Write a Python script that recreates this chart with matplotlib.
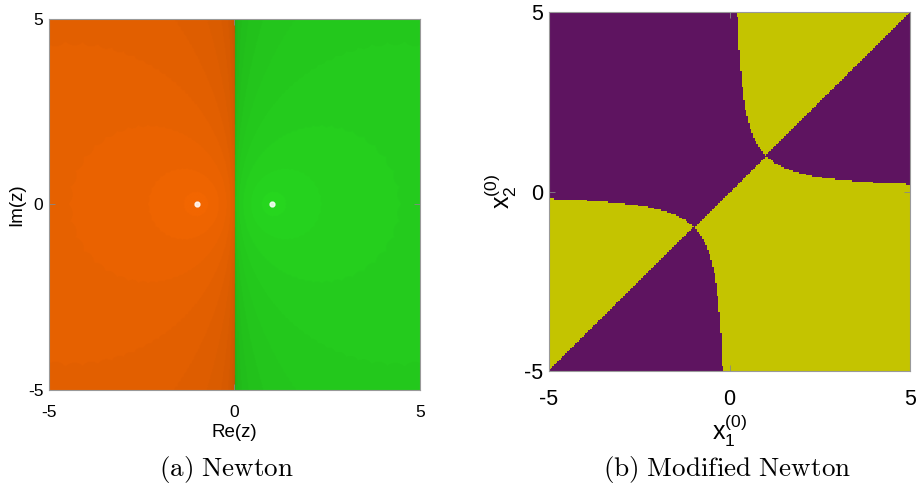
import numpy as np
import matplotlib
matplotlib.use("Agg")
import matplotlib.pyplot as plt

# plot window and ticks
lims = [-5, 5]
ticks = [-5, 0, 5]
# roots of z^2 - 1 (panel a) and of the 2x2 system (panel b)
roots_a = [-1.0, 1.0]
roots_b = [(-1.0, -1.0), (1.0, 1.0)]
# basin colours
col_a = [(0.95, 0.40, 0.0), (0.15, 0.84, 0.12)]   # orange, green
col_b = [(0.37, 0.08, 0.38), (0.77, 0.77, 0.0)]   # purple, yellow
captions = ["(a) Newton", "(b) Modified Newton"]

plt.rcParams["font.family"] = ["Liberation Sans", "DejaVu Sans"]
plt.rcParams["mathtext.fontset"] = "custom"
plt.rcParams["mathtext.rm"] = "Liberation Sans"
plt.rcParams["mathtext.it"] = "Liberation Sans"

fig = plt.figure(figsize=(9.17, 4.97), dpi=100)
ax1 = fig.add_axes([0.0534, 0.2153, 0.4046, 0.7465])
ax2 = fig.add_axes([0.5987, 0.2535, 0.3937, 0.7223])

# ---- panel (a): Newton on z^2 - 1, shaded by iteration count
n = 500
xs = np.linspace(lims[0], lims[1], n)
X, Y = np.meshgrid(xs, xs)
z = X + 1j * Y
z[z == 0] = 1e-9
iters = np.zeros(z.shape)
done = np.zeros(z.shape, dtype=bool)
for k in range(40):
    z = z - (z**2 - 1) / (2 * z)
    hit = (np.abs(np.abs(z.real) - 1) + np.abs(z.imag) < 1e-6) & ~done
    iters[hit] = k
    done |= hit
idx = (z.real > 0).astype(int)
shade = 1 - 0.016 * np.clip(iters - 2, 0, None)
img = np.zeros(z.shape + (3,))
for i in range(2):
    m = idx == i
    img[m] = np.array(col_a[i]) * shade[m][:, None]
ax1.imshow(img, extent=[lims[0], lims[1], lims[0], lims[1]], origin="lower",
           interpolation="bilinear", aspect="auto")
ax1.plot(roots_a, [0, 0], "o", color="white", ms=3.5, alpha=0.85)

# ---- panel (b): basin decided by the sign pattern of f1 = x1 x2 - 1, f2 = x2 - x1
nb = 220
xb = np.linspace(lims[0], lims[1], nb)
XB, YB = np.meshgrid(xb, xb)
f1 = XB * YB - 1
f2 = YB - XB
basin = ((f1 * f2) > 0).astype(int)
img_b = np.zeros(basin.shape + (3,))
for i in range(2):
    img_b[basin == i] = col_b[i]
ax2.imshow(img_b, extent=[lims[0], lims[1], lims[0], lims[1]], origin="lower",
           interpolation="nearest", aspect="auto")

for ax, fs, pad in [(ax1, 12.5, 11), (ax2, 15.5, 13)]:
    ax.set_xlim(lims)
    ax.set_ylim(lims)
    ax.set_xticks(ticks)
    ax.set_yticks(ticks)
    ax.set_xticklabels([str(t) for t in ticks])
    ax.set_yticklabels([str(t) for t in ticks])
    ax.tick_params(direction="in", length=4, width=0.6, color="#888888",
                   labelsize=fs, top=True, right=True, pad=pad)
    ax.tick_params(axis="y", pad=4)
    for s in ax.spines.values():
        s.set_color("#999999")
        s.set_linewidth(0.8)

ax1.set_xlabel("Re(z)", fontsize=13.5, labelpad=3)
ax1.set_ylabel("Im(z)", fontsize=13.5, labelpad=2)
ax2.set_xlabel(r"x$_1^{(0)}$", fontsize=18, labelpad=2)
ax2.set_ylabel(r"x$_2^{(0)}$", fontsize=18, labelpad=4)

fig.text(0.2475, 0.055, r"$\mathrm{(a)\ Newton}$", ha="center", va="center",
         fontsize=19.5, math_fontfamily="cm")
fig.text(0.793, 0.055, r"$\mathrm{(b)\ Modified\ Newton}$", ha="center", va="center",
         fontsize=19.5, math_fontfamily="cm")

fig.savefig("out.png", dpi=100)
